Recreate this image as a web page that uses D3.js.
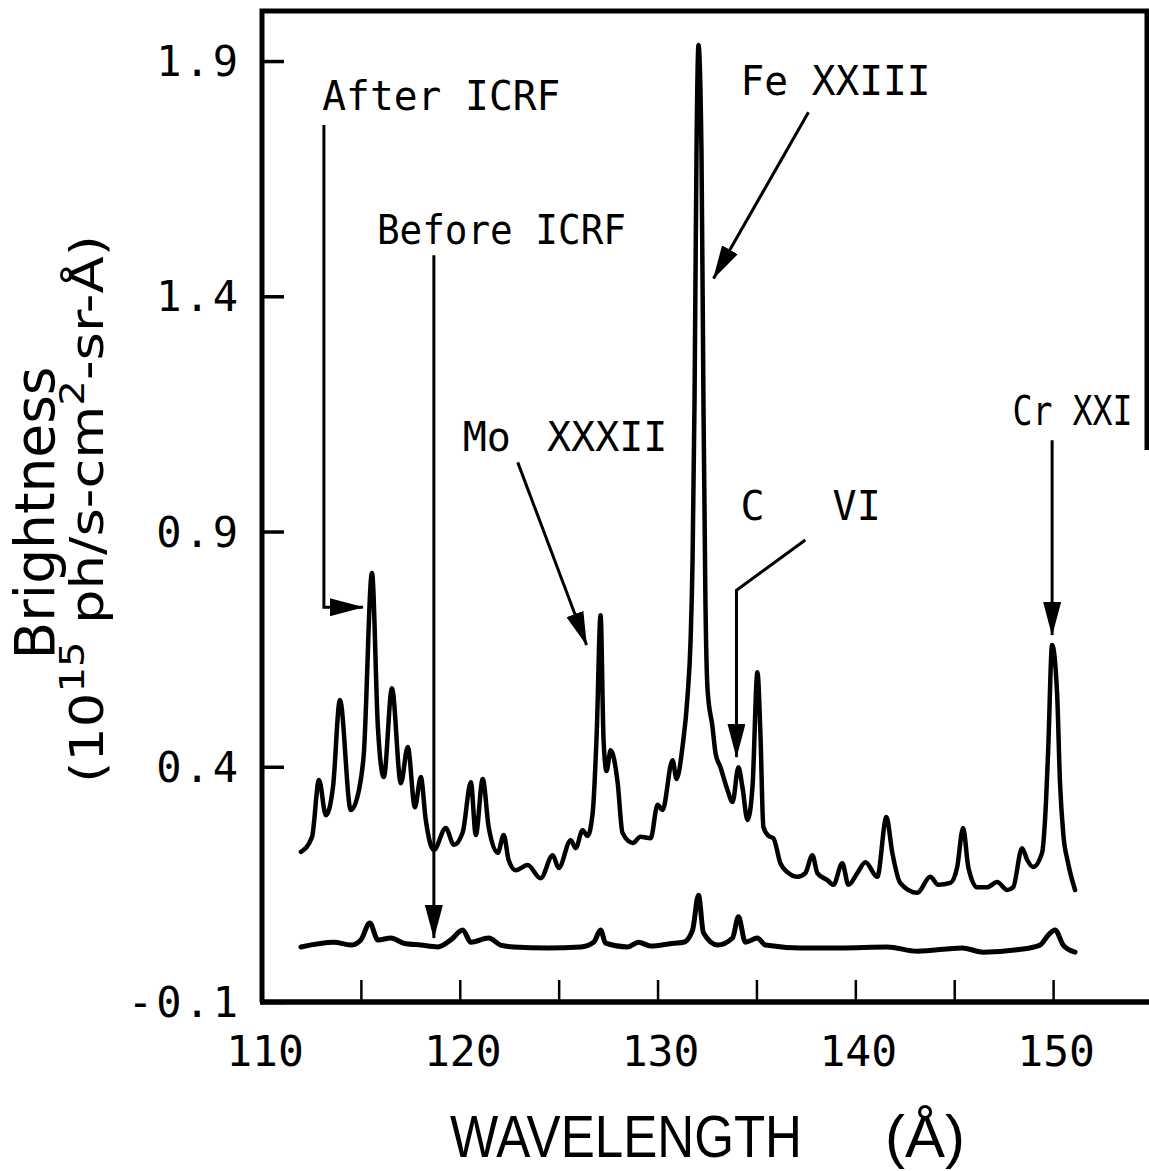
<!DOCTYPE html>
<html>
<head>
<meta charset="utf-8">
<script src="https://cdn.jsdelivr.net/npm/d3@7"></script>
<style>
  body { margin: 0; background: #fff; }
  svg { display: block; }
</style>
</head>
<body>
<svg id="chart"></svg>
<script>
// spectrum after ICRF (wavelength in A, brightness)
var wlAfter = [111.97, 112.53, 112.88, 113.23, 113.59, 113.94, 114.49, 114.90, 115.15, 115.56,
  115.86, 116.16, 116.57, 117.02, 117.37, 117.73, 118.03, 118.28, 118.69, 119.29,
  119.70, 120.15, 120.56, 120.81, 121.16, 121.46, 121.92, 122.22, 122.47, 122.83,
  123.43, 124.09, 124.70, 125.00, 125.61, 125.86, 126.21, 126.46, 126.72, 126.92,
  127.12, 127.27, 127.42, 127.63, 127.98, 128.23, 128.74, 129.14, 129.65, 130.00,
  130.25, 130.76, 130.96, 131.26, 131.52, 131.67, 131.77, 131.87, 131.97, 132.07,
  132.22, 132.32, 132.42, 132.53, 132.78, 132.93, 133.18, 133.54, 133.79, 134.09,
  134.29, 134.55, 134.80, 135.05, 135.20, 135.35, 135.61, 135.86, 136.21, 136.57,
  137.07, 137.47, 137.83, 138.08, 138.59, 138.89, 139.34, 139.65, 140.10, 140.51,
  141.11, 141.57, 141.87, 142.27, 143.13, 143.79, 144.19, 144.80, 145.15, 145.45,
  145.71, 146.16, 146.67, 147.17, 147.68, 147.98, 148.43, 148.69, 148.99, 149.44,
  149.60, 149.75, 149.95, 150.20, 150.35, 150.51, 150.76, 151.11];
var brAfter = [0.219, 0.251, 0.372, 0.297, 0.357, 0.542, 0.308, 0.350, 0.429, 0.812,
  0.484, 0.378, 0.567, 0.365, 0.442, 0.314, 0.378, 0.287, 0.223, 0.270,
  0.234, 0.261, 0.367, 0.255, 0.374, 0.272, 0.217, 0.255, 0.202, 0.180,
  0.191, 0.163, 0.212, 0.185, 0.244, 0.227, 0.265, 0.253, 0.302, 0.467,
  0.722, 0.457, 0.391, 0.435, 0.367, 0.259, 0.238, 0.251, 0.248, 0.319,
  0.308, 0.414, 0.374, 0.442, 0.552, 0.669, 0.839, 1.179, 1.710, 1.934,
  1.710, 1.179, 0.754, 0.563, 0.484, 0.429, 0.399, 0.350, 0.325, 0.399,
  0.357, 0.287, 0.357, 0.601, 0.472, 0.272, 0.253, 0.248, 0.195, 0.176,
  0.166, 0.174, 0.212, 0.174, 0.159, 0.149, 0.195, 0.149, 0.174, 0.197,
  0.166, 0.293, 0.217, 0.153, 0.132, 0.166, 0.149, 0.153, 0.187, 0.270,
  0.187, 0.144, 0.144, 0.155, 0.138, 0.144, 0.227, 0.202, 0.187, 0.217,
  0.293, 0.435, 0.659, 0.557, 0.365, 0.259, 0.195, 0.138];

// spectrum before ICRF
var wlBefore = [111.97, 113.64, 114.49, 115.00, 115.45, 115.86, 116.52, 117.17, 118.03, 118.89,
  119.55, 120.15, 120.56, 121.46, 122.07, 122.73, 124.44, 126.11, 126.77, 127.12,
  127.37, 128.48, 129.04, 129.65, 130.81, 131.31, 131.77, 132.07, 132.32, 133.03,
  133.79, 134.09, 134.44, 135.05, 135.45, 137.22, 139.24, 141.62, 143.13, 145.40,
  146.46, 148.18, 149.34, 149.75, 150.10, 150.51, 151.11];
var brBefore = [0.017, 0.027, 0.021, 0.032, 0.068, 0.032, 0.036, 0.025, 0.021, 0.017,
  0.032, 0.053, 0.027, 0.036, 0.021, 0.017, 0.015, 0.017, 0.027, 0.053,
  0.025, 0.017, 0.027, 0.019, 0.025, 0.027, 0.053, 0.127, 0.047, 0.021,
  0.036, 0.081, 0.027, 0.036, 0.021, 0.015, 0.015, 0.017, 0.008, 0.015,
  0.006, 0.011, 0.021, 0.042, 0.053, 0.021, 0.006];

var yTicks = [-0.1, 0.4, 0.9, 1.4, 1.9];
var xTicks = [115, 120, 125, 130, 135, 140, 145, 150];
var xLabels = [110, 120, 130, 140, 150];

// line labels and their leader arrows (data units)
var noteText = ["After ICRF", "Before ICRF", "Mo XXXII", "Fe XXIII", "C VI", "Cr XXI"];
var noteX = [113.05, 115.81, 120.15, 134.19, 134.19, 147.95];
var noteY = [1.795, 1.511, 1.071, 1.827, 0.924, 1.126];
var noteArrows = [
  [[113.13, 1.764], [113.13, 0.739], [115.10, 0.739]],
  [[118.69, 1.487], [118.69, 0.036]],
  [[122.93, 1.047], [126.41, 0.659]],
  [[137.63, 1.791], [132.83, 1.438]],
  [[137.47, 0.882], [133.99, 0.775], [133.99, 0.421]],
  [[149.95, 1.094], [149.95, 0.680]]
];

var width = 1149, height = 1171;
var plotLeft = 262, plotRight = 1152, plotTop = 14, plotBottom = 1002;

var svg = d3.select("#chart").attr("width", width).attr("height", height);

var x = d3.scaleLinear().domain([110, 155]).range([plotLeft, plotRight]);
var y = d3.scaleLinear().domain([-0.1, 2.0]).range([plotBottom, plotTop]);

var mono = "'DejaVu Sans Mono', monospace";

// ticks pointing inward
svg.append("g")
  .attr("transform", "translate(" + plotLeft + ",0)")
  .call(d3.axisRight(y).tickValues(yTicks).tickSize(22).tickFormat(""))
  .call(function(g) { g.select(".domain").remove(); })
  .selectAll("line").attr("stroke", "#000").attr("stroke-width", 3.5);

svg.append("g")
  .attr("transform", "translate(0," + plotBottom + ")")
  .call(d3.axisTop(x).tickValues(xTicks).tickSize(22).tickFormat(""))
  .call(function(g) { g.select(".domain").remove(); })
  .selectAll("line").attr("stroke", "#000").attr("stroke-width", 2.5);

// tick labels
svg.append("g").selectAll("text")
  .data(yTicks).enter().append("text")
  .attr("x", 241)
  .attr("y", function(d) { return y(d) + 15; })
  .attr("text-anchor", "end")
  .attr("font-family", mono)
  .attr("font-size", 42)
  .attr("letter-spacing", 3)
  .text(function(d) { return d3.format(".1f")(d).replace("\u2212", "-"); });

svg.append("g").selectAll("text")
  .data(xLabels).enter().append("text")
  .attr("x", function(d) { return x(d) + 3; })
  .attr("y", 1066)
  .attr("text-anchor", "middle")
  .attr("font-family", mono)
  .attr("font-size", 43)
  .text(function(d) { return d; });

// frame
svg.append("path")
  .attr("d", "M" + plotLeft + "," + plotBottom + "V" + 11 + "H" + 1147 + "V" + 450)
  .attr("fill", "none").attr("stroke", "#000").attr("stroke-width", 5);
svg.append("line")
  .attr("x1", plotLeft - 2).attr("x2", width)
  .attr("y1", plotBottom).attr("y2", plotBottom)
  .attr("stroke", "#000").attr("stroke-width", 5.5);

// spectra
var line = d3.line()
  .curve(d3.curveMonotoneX)
  .x(function(d) { return x(d[0]); })
  .y(function(d) { return y(d[1]); });

svg.append("path")
  .datum(d3.zip(wlAfter, brAfter))
  .attr("d", line)
  .attr("fill", "none").attr("stroke", "#000")
  .attr("stroke-width", 4.5).attr("stroke-linejoin", "round").attr("stroke-linecap", "round");

svg.append("path")
  .datum(d3.zip(wlBefore, brBefore))
  .attr("d", line)
  .attr("fill", "none").attr("stroke", "#000")
  .attr("stroke-width", 5).attr("stroke-linejoin", "round").attr("stroke-linecap", "round");

// arrowhead
svg.append("defs").append("marker")
  .attr("id", "head")
  .attr("markerUnits", "userSpaceOnUse")
  .attr("markerWidth", 34).attr("markerHeight", 18)
  .attr("refX", 33).attr("refY", 9)
  .attr("orient", "auto")
  .append("path").attr("d", "M0,0L34,9L0,18Z").attr("fill", "#000");

var leader = d3.line()
  .x(function(d) { return x(d[0]); })
  .y(function(d) { return y(d[1]); });

svg.append("g").selectAll("path")
  .data(noteArrows).enter().append("path")
  .attr("d", leader)
  .attr("fill", "none").attr("stroke", "#000").attr("stroke-width", 3)
  .attr("marker-end", "url(#head)");

// squeeze most labels a bit; widen only the gap in Mo XXXII and C VI
var noteWidth = [238, 249, null, 190, null, 120];
var noteGap = [0, 0, 12, 0, 44, 0];
svg.append("g").selectAll("text")
  .data(noteText).enter().append("text")
  .attr("x", function(d, i) { return x(noteX[i]); })
  .attr("y", function(d, i) { return y(noteY[i]); })
  .attr("font-family", mono)
  .attr("font-size", 40)
  .attr("word-spacing", function(d, i) { return noteGap[i]; })
  .attr("textLength", function(d, i) { return noteWidth[i]; })
  .attr("lengthAdjust", "spacingAndGlyphs")
  .text(function(d) { return d; });

// axis titles
var xt = svg.append("text")
  .attr("y", 1157)
  .attr("font-family", "'Liberation Sans', sans-serif")
  .attr("font-size", 59);
xt.append("tspan").attr("x", 450).attr("textLength", 352).attr("lengthAdjust", "spacingAndGlyphs").text("WAVELENGTH");
xt.append("tspan").text(" ");
xt.append("tspan").attr("x", 885).attr("textLength", 80).attr("lengthAdjust", "spacingAndGlyphs").text("(Å)");

svg.append("text")
  .attr("transform", "translate(54,513) rotate(-90)")
  .attr("text-anchor", "middle")
  .attr("font-family", "'DejaVu Sans', sans-serif")
  .attr("font-size", 55)
  .text("Brightness");

var yt = svg.append("text")
  .attr("transform", "translate(103,509) rotate(-90)")
  .attr("text-anchor", "middle")
  .attr("font-family", "'DejaVu Sans', sans-serif")
  .attr("font-size", 46)
  .attr("textLength", 548)
  .attr("lengthAdjust", "spacingAndGlyphs");
yt.append("tspan").text("(10");
yt.append("tspan").attr("dy", -19).attr("font-size", 34).text("15");
yt.append("tspan").attr("dy", 19).text(" ph/s-cm");
yt.append("tspan").attr("dy", -19).attr("font-size", 34).text("2");
yt.append("tspan").attr("dy", 19).text("-sr-Å)");
</script>
</body>
</html>
